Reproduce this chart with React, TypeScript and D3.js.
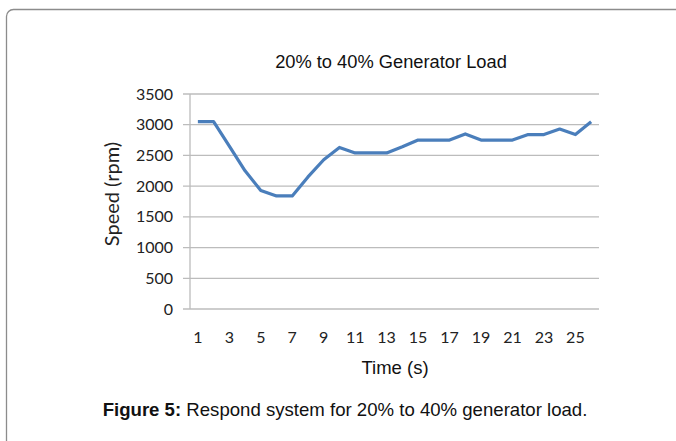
import React from 'react';
import * as d3 from 'd3';

// time steps (s) and measured speed (rpm)
const times = d3.range(1, 27);
const speed = [
  3050, 3050, 2650, 2250, 1930, 1840, 1840, 2150, 2430, 2630,
  2540, 2540, 2540, 2640, 2750, 2750, 2750, 2850, 2750, 2750,
  2750, 2840, 2840, 2930, 2840, 3050,
];
const yTicks = [0, 500, 1000, 1500, 2000, 2500, 3000, 3500];
const xTickLabels = times.filter((t) => t % 2 === 1);

const chartTitle = '20% to 40% Generator Load';
const yTitle = 'Speed (rpm)';
const xTitle = 'Time (s)';

const W = 676, H = 441;
const plot = { left: 190, right: 599, top: 94, bottom: 309 };

export default function App() {
  const x = d3.scaleBand<number>()
    .domain(times)
    .range([plot.left, plot.right]);
  const y = d3.scaleLinear().domain([0, 3500]).range([plot.bottom, plot.top]);
  const cx = (t: number) => (x(t) as number) + x.bandwidth() / 2;

  const line = d3.line<number>()
    .x((_, i) => cx(times[i]))
    .y((d) => y(d));

  const tickFont = 'Lato, "Open Sans", sans-serif';
  const arial = '"Liberation Sans", Arial, sans-serif';

  return (
    <svg width={W} height={H} style={{ position: 'absolute', left: 0, top: 0 }}>
      <rect x={0} y={0} width={W} height={H} fill="#fff" />
      <rect x={6.5} y={9.5} width={W + 20} height={H + 20} rx={7} fill="none" stroke="#8c8c8c" strokeWidth={1.3} />

      <text x={391} y={68} textAnchor="middle" fontFamily={arial} fontSize={18.3} fill="#111">
        {chartTitle}
      </text>

      {yTicks.map((t) => (
        <g key={t}>
          <line x1={plot.left - 7} x2={plot.right} y1={y(t)} y2={y(t)} stroke="#bcbcbc" strokeWidth={1.3} />
          <text x={173} y={y(t)} dy="0.35em" textAnchor="end" fontFamily={tickFont} fontSize={16} fill="#222">
            {t}
          </text>
        </g>
      ))}
      <line x1={plot.left} x2={plot.left} y1={plot.top} y2={plot.bottom} stroke="#bcbcbc" strokeWidth={1.3} />

      {xTickLabels.map((t) => (
        <text key={t} x={cx(t)} y={343} textAnchor="middle" fontFamily={tickFont} fontSize={16} fill="#222">
          {t}
        </text>
      ))}

      <path d={line(speed) ?? ''} fill="none" stroke="#4a7ebb" strokeWidth={3.2} strokeLinejoin="round" />

      <text transform="translate(119,194) rotate(-90)" textAnchor="middle" fontFamily={tickFont} fontSize={20} fill="#222">
        {yTitle}
      </text>
      <text x={395} y={374} textAnchor="middle" fontFamily={arial} fontSize={18.5} fill="#111">
        {xTitle}
      </text>

      <text x={345} y={416} textAnchor="middle" fontFamily={arial} fontSize={18.6} fill="#111">
        <tspan fontWeight="bold">Figure 5:</tspan> Respond system for 20% to 40% generator load.
      </text>
    </svg>
  );
}
